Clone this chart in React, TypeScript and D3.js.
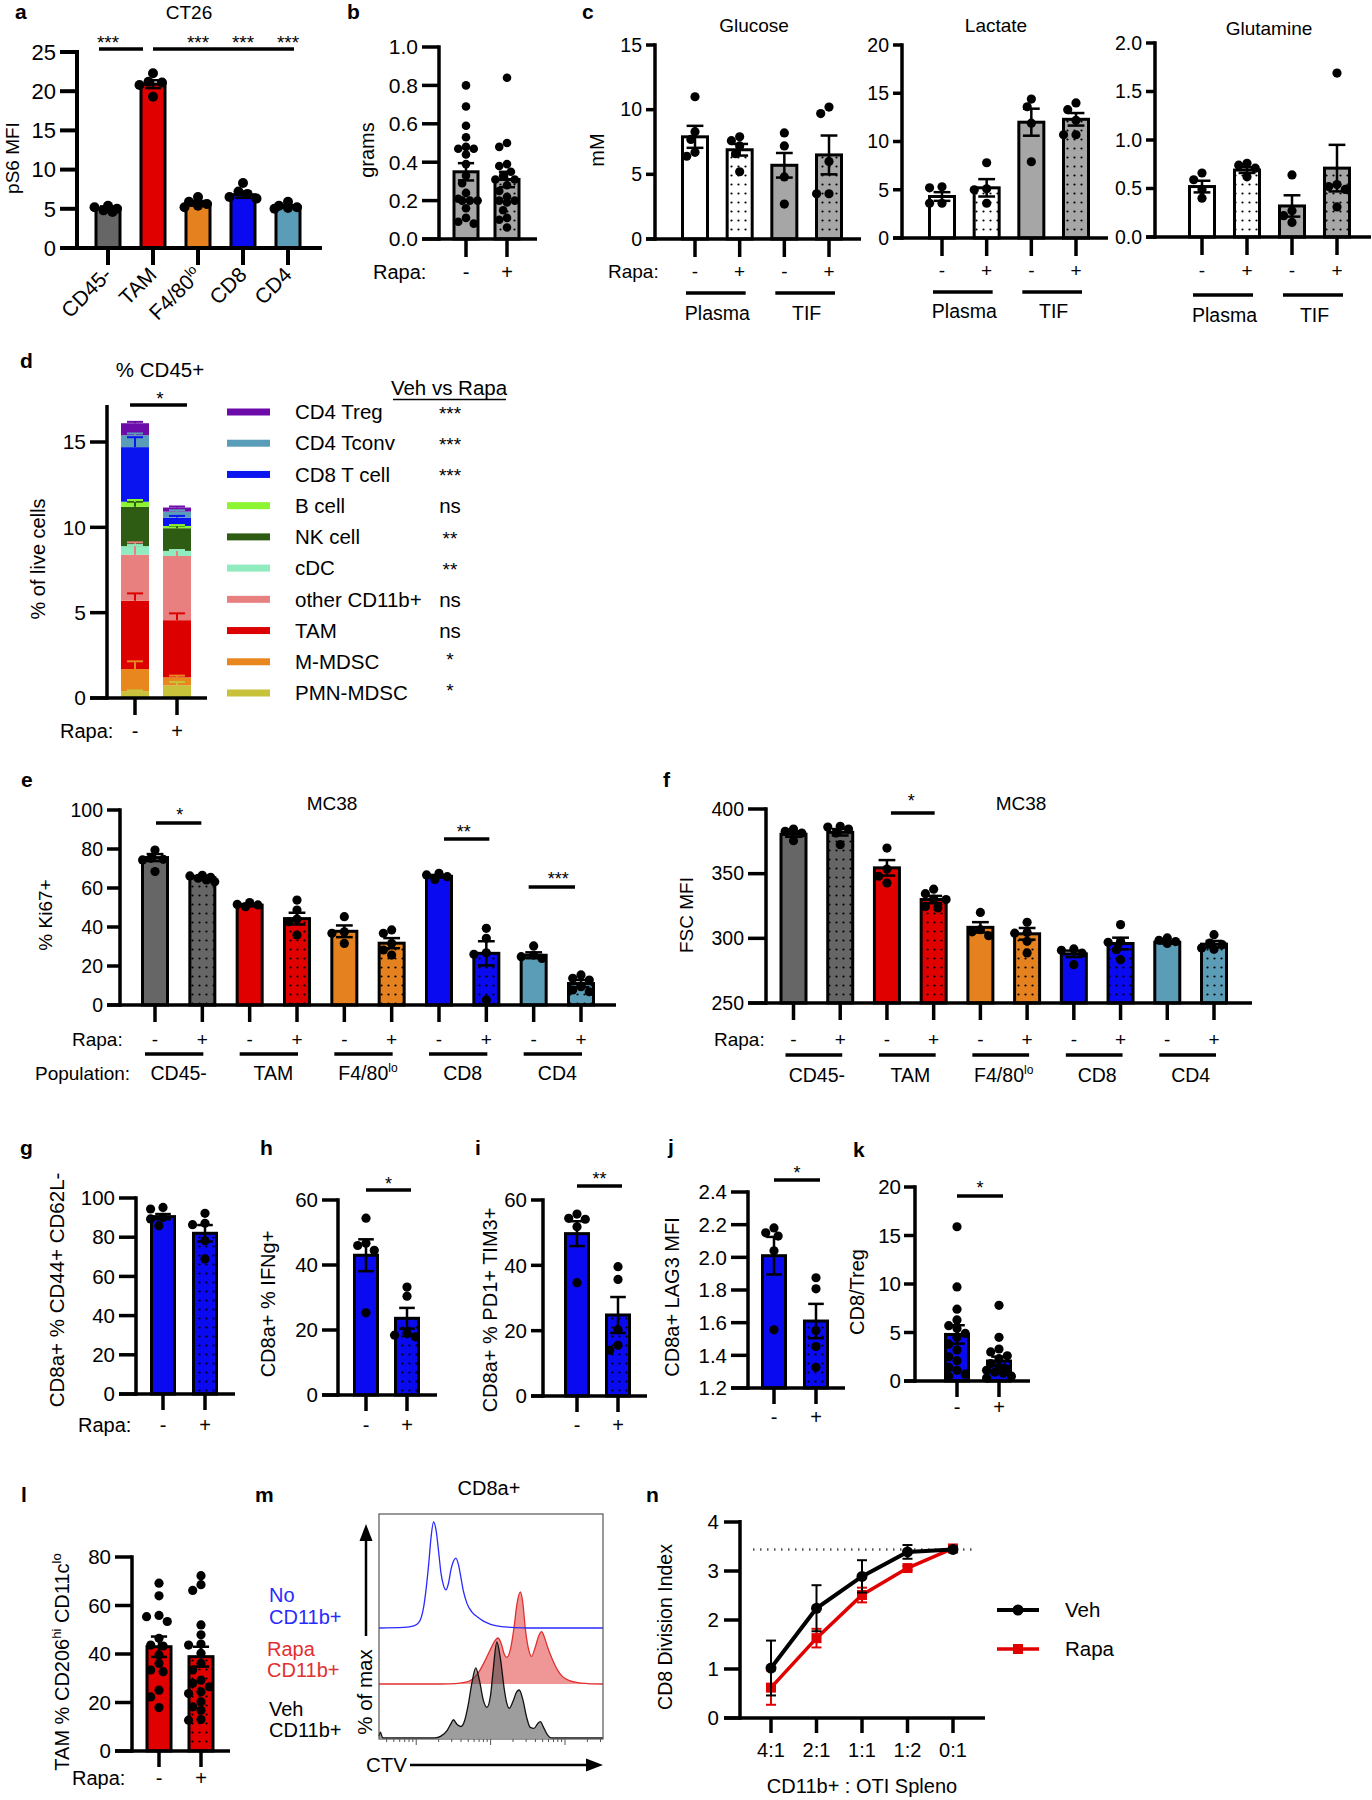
import React from "react";
import * as d3 from "d3";

const FONT = "'Liberation Sans', Arial, Helvetica, sans-serif";

const C_GRAY = "#666666";
const C_RED = "#e00000";
const C_ORANGE = "#e5821f";
const C_BLUE = "#0a0af0";
const C_TEAL = "#5b9db6";
const C_LGRAY = "#a6a6a6";
const C_WHITE = "#ffffff";

// ---------------- panel a ----------------
const aCats = ["CD45-", "TAM", "F4/80", "CD8", "CD4"];
const aSup = ["", "", "lo", "", ""];
const aMeans = [5.1, 20.9, 5.7, 6.8, 5.3];
const aSem = [0.2, 0.5, 0.3, 0.4, 0.15];
const aPts = [
  [5.4, 5.0, 4.8, 5.2, 4.6],
  [22.3, 21.1, 20.8, 19.3, 21.2],
  [6.5, 5.6, 5.2, 5.9, 5.4],
  [8.3, 7.2, 6.3, 6.5, 6.9],
  [5.9, 5.4, 5.1, 5.2, 5.0],
];
const aColors = [C_GRAY, C_RED, C_ORANGE, C_BLUE, C_TEAL];
const aTicks = [0, 5, 10, 15, 20, 25];
const aSig = ["***", "", "***", "***", "***"];

// ---------------- panel b ----------------
const rapaSigns = ["-", "+"];
const bMeans = [0.35, 0.31];
const bSem = [0.045, 0.04];
const bVeh = [0.8, 0.69, 0.59, 0.53, 0.48, 0.47, 0.47, 0.44, 0.39, 0.33, 0.29, 0.24, 0.21, 0.2, 0.2, 0.2, 0.16, 0.11, 0.09, 0.08];
const bRapa = [0.84, 0.5, 0.48, 0.39, 0.38, 0.35, 0.33, 0.31, 0.31, 0.28, 0.25, 0.22, 0.2, 0.2, 0.19, 0.15, 0.11, 0.1, 0.06];
const bTicks = [0, 0.2, 0.4, 0.6, 0.8, 1.0];

// ---------------- panel c ----------------
const cGroups = ["Plasma", "TIF"];
const cSigns = ["-", "+", "-", "+"];
const glcMeans = [7.9, 6.9, 5.7, 6.5];
const glcSem = [0.85, 0.45, 0.95, 1.5];
const glcPts = [
  [11.0, 8.3, 7.7, 6.7, 6.4],
  [7.9, 7.6, 7.2, 6.6, 5.2],
  [8.2, 7.2, 4.8, 2.7],
  [10.2, 9.7, 6.0, 3.5, 3.5],
];
const lacMeans = [4.3, 5.2, 12.0, 12.3];
const lacSem = [0.45, 0.9, 1.4, 0.65];
const lacPts = [
  [5.3, 5.2, 3.6, 3.6],
  [7.8, 5.1, 5.0, 3.6],
  [13.6, 14.4, 11.9, 7.9],
  [14.0, 13.3, 12.2, 10.7, 10.7],
];
const glnMeans = [0.52, 0.69, 0.32, 0.71];
const glnSem = [0.06, 0.03, 0.11, 0.24];
const glnPts = [
  [0.59, 0.66, 0.49, 0.4],
  [0.74, 0.71, 0.76, 0.62],
  [0.64, 0.27, 0.22, 0.15],
  [1.69, 0.54, 0.52, 0.49, 0.31],
];

// ---------------- panel d ----------------
const dPops = ["PMN-MDSC", "M-MDSC", "TAM", "other CD11b+", "cDC", "NK cell", "B cell", "CD8 T cell", "CD4 Tconv", "CD4 Treg"];
const dColors = ["#c8c23a", "#e8871e", "#dd0000", "#e88080", "#90ebbf", "#2e5c12", "#8cf532", "#0a14f0", "#5a9db8", "#6c0ba9"];
const dVeh = [0.4, 1.3, 4.0, 2.7, 0.5, 2.3, 0.3, 3.2, 0.7, 0.7];
const dRapa = [0.74, 0.47, 3.35, 3.76, 0.3, 1.33, 0.13, 0.49, 0.35, 0.24];
const dVehSem = [0.05, 0.45, 0.43, 0.72, 0.06, 0.3, 0.1, 0.58, 0.1, 0.08];
const dRapaSem = [0.2, 0.1, 0.4, 0.35, 0.05, 0.15, 0.05, 0.1, 0.08, 0.06];
const dSig = ["*", "*", "ns", "ns", "**", "**", "ns", "***", "***", "***"];
const dTicks = [0, 5, 10, 15];

// ---------------- panel e ----------------
const popGroups = ["CD45-", "TAM", "F4/80", "CD8", "CD4"];
const popSup = ["", "", "lo", "", ""];
const popColors = [C_GRAY, C_RED, C_ORANGE, C_BLUE, C_TEAL];
const eMeans = [75.6, 65.3, 51.2, 44.3, 37.8, 31.7, 66.0, 26.5, 25.5, 11.0];
const eSem = [1.8, 0.8, 0.6, 3.0, 3.0, 2.6, 0.7, 6.2, 1.5, 1.8];
const ePts = [
  [79.5, 75.2, 74.7, 74.4, 68.4],
  [66.2, 65.5, 65.0, 64.1, 63.2, 66.5],
  [52.5, 51.6, 51.3, 50.4],
  [53.8, 48.7, 44.1, 42.7, 35.9],
  [45.3, 36.8, 37.5, 31.6],
  [38.5, 36.8, 28.2, 25.6, 31.6],
  [67.5, 66.7, 65.8, 64.4],
  [39.3, 34.2, 26.8, 26.0, 2.6],
  [30.3, 25.6, 24.8, 23.9],
  [15.4, 13.7, 9.4, 7.7, 6.8, 12.8],
];
const eTicks = [0, 20, 40, 60, 80, 100];

// ---------------- panel f ----------------
const fMeans = [380.5, 382, 354.5, 330, 308.5, 303.5, 288, 296, 297, 295.5];
const fSem = [2.0, 2.5, 6.0, 2.8, 4.0, 4.5, 2.5, 4.5, 1.0, 2.5];
const fPts = [
  [384.5, 382.7, 381.4, 375.5],
  [386.6, 386.0, 384.5, 381.4, 372.4],
  [369.8, 353.6, 348.0, 342.8],
  [338, 334.5, 330.4, 324.7, 323.5, 330.0],
  [320, 306.7, 305, 302],
  [312.4, 304.6, 304, 297.7, 288.7],
  [291.8, 290.7, 288.5, 279.6],
  [310.6, 297.7, 296.9, 291.2, 283.5],
  [300.3, 298.5, 297.5, 296.0],
  [302.8, 296.4, 295.1, 292.5, 291.5],
];
const fTicks = [250, 300, 350, 400];

// ---------------- panels g-l ----------------
const gMeans = [90.5, 82.0];
const gSem = [1.3, 4.2];
const gPts = [[95.2, 94.4, 90.1, 89.3, 85.9], [92.2, 87.1, 86.4, 78.2, 68.9]];
const hMeans = [43.0, 23.6];
const hSem = [4.9, 3.2];
const hPts = [[54.4, 46.7, 46.0, 44.5, 25.3], [33.2, 30.4, 18.9, 18.4, 17.9]];
const iMeans = [49.7, 24.8];
const iSem = [3.8, 5.5];
const iPts = [[55.7, 54.4, 54.1, 51.8, 34.7], [39.6, 35.7, 20.3, 15.5, 14.0]];
const jMeans = [2.01, 1.61];
const jSem = [0.115, 0.105];
const jPts = [[2.18, 2.15, 2.13, 2.04, 1.556], [1.875, 1.807, 1.552, 1.454, 1.327]];
const kMeans = [4.8, 2.06];
const kSem = [0.95, 0.45];
const kPts = [
  [15.9, 9.7, 7.4, 6.3, 5.7, 5.4, 4.9, 4.5, 3.8, 3.2, 2.5, 2.1, 1.4, 1.1, 0.7, 0.5],
  [7.8, 4.5, 3.3, 3.0, 2.6, 2.3, 1.8, 1.4, 1.1, 0.8, 0.5, 0.3, 1.2, 0.9],
];
const lMeans = [43.0, 38.9];
const lSem = [4.2, 4.1];
const lPts = [
  [69.2, 64.0, 55.9, 55.4, 53.4, 46.5, 43.7, 43.3, 39.6, 36.1, 33.4, 32.7, 25.1, 22.3, 17.9],
  [72.3, 68.6, 66.2, 52.0, 47.9, 44.1, 43.7, 40.3, 36.1, 33.4, 29.2, 27.9, 26.5, 24.4, 23.7, 20.3, 18.2, 16.8, 13.0, 12.7],
];

// ---------------- panel m (CTV histograms: [CTV intensity, % of max]) ----------------
const mNoCD11b: [number, number][] = [
  [31.6, 0], [68, 0.5], [93, 2], [108, 5], [126, 20], [147, 60], [158, 85], [171, 100], [185, 92], [200, 72],
  [215, 52], [233, 40], [251, 36], [271, 42], [293, 55], [316, 63], [341, 66], [369, 60], [398, 48], [430, 35],
  [482, 23], [562, 15], [681, 10], [825, 6], [1000, 3.5], [1212, 2], [1585, 1], [2154, 0.3], [3162, 0], [32400, 0],
];
const mRapa: [number, number][] = [
  [31.6, 0], [215, 0], [341, 0.5], [464, 2], [562, 5], [681, 12], [825, 24], [1000, 38], [1122, 46], [1259, 50],
  [1413, 42], [1531, 32], [1652, 29], [1848, 38], [2069, 62], [2239, 85], [2512, 100], [2712, 88], [2929, 60],
  [3281, 36], [3548, 30], [3981, 40], [4467, 53], [4842, 57], [5224, 52], [5843, 40], [6813, 26], [7943, 15],
  [9261, 8], [11220, 4], [14678, 1.5], [19953, 0.5], [32400, 0],
];
const mVeh: [number, number][] = [
  [31.6, 2], [32.9, 6], [35.5, 0], [178, 0], [215, 2], [261, 8], [293, 15], [316, 19], [355, 14], [398, 12],
  [447, 18], [501, 35], [562, 58], [631, 73], [708, 60], [794, 40], [891, 32], [1000, 45], [1080, 70], [1212, 100],
  [1359, 82], [1531, 50], [1652, 36], [1778, 31], [1995, 38], [2239, 48], [2424, 50], [2712, 40], [3040, 22],
  [3411, 11], [3831, 10], [4299, 15], [4642, 17], [5224, 10], [5843, 3], [6554, 0], [32400, 0],
];

// ---------------- panel n ----------------
const nRatios = ["4:1", "2:1", "1:1", "1:2", "0:1"];
const nVeh = [1.02, 2.24, 2.89, 3.39, 3.44];
const nVehSem = [0.56, 0.47, 0.33, 0.14, 0.03];
const nRapa = [0.62, 1.63, 2.51, 3.06, 3.46];
const nRapaSem = [0.35, 0.19, 0.15, 0.04, 0.03];
const nRef = 3.44;
const nTicks = [0, 1, 2, 3, 4];

// ================= helpers =================
const pat = (c: string) => "dots" + c.replace("#", "");
const PAT_COLORS = [C_GRAY, C_RED, C_ORANGE, C_BLUE, C_TEAL, C_LGRAY, C_WHITE];

function Defs() {
  return (
    <defs>
      {PAT_COLORS.map((c) => (
        <pattern key={c} id={pat(c)} width={7} height={9} patternUnits="userSpaceOnUse">
          <rect width={7} height={9} fill={c} />
          <circle cx={3.5} cy={4.5} r={1.1} fill="#000" />
        </pattern>
      ))}
    </defs>
  );
}

function T(p: any) {
  const tr =
    `translate(${p.x},${p.y})` +
    (p.rot ? ` rotate(${p.rot})` : "") +
    (p.sx && p.sx !== 1 ? ` scale(${p.sx},1)` : "");
  return (
    <text
      transform={tr}
      fontSize={p.fs ?? 20}
      textAnchor={p.anchor ?? "start"}
      fill={p.fill ?? "#000"}
      fontWeight={p.weight ?? "normal"}
      dy={p.dy}
    >
      {p.children}
    </text>
  );
}

function Stars({ x, yc, s, fs = 18 }: any) {
  return (
    <T x={x} y={yc + 0.58 * fs} fs={fs} anchor="middle">
      {s}
    </T>
  );
}

function Lbl({ name, sup }: any) {
  return (
    <>
      {name}
      {sup ? (
        <tspan dy={-8} fontSize="0.62em">
          {sup}
        </tspan>
      ) : null}
    </>
  );
}

type Bar = { mean: number; sem: number; pts: number[]; color: string; dotted?: boolean };

function scalesOf(c: any, n: number) {
  const y = d3.scaleLinear().domain(c.dom).range([c.yb, c.yt]);
  const xp = d3.scalePoint<number>().domain(d3.range(n)).range([c.c0, c.c1]);
  return { x: (i: number) => xp(i) as number, y };
}

function swarm(vals: number[], y: (v: number) => number, r: number, half: number): number[] {
  const order = d3.range(vals.length).sort((a, b) => vals[b] - vals[a]);
  const placed: [number, number][] = [];
  const out: number[] = new Array(vals.length).fill(0);
  const step = r * 0.9;
  const cands: number[] = [0];
  for (let k = 1; k * step <= half + 0.01; k++) cands.push(-k * step, k * step);
  for (const i of order) {
    const py = y(vals[i]);
    let best = 0;
    let bestD = -1;
    for (const dx of cands) {
      let md = Infinity;
      for (const [qx, qy] of placed) md = Math.min(md, Math.hypot(qx - dx, qy - py));
      if (md >= 2 * r * 0.92) {
        best = dx;
        break;
      }
      if (md > bestD) {
        bestD = md;
        best = dx;
      }
    }
    placed.push([best, py]);
    out[i] = best;
  }
  return out;
}

function BarChart({ cfg, bars }: { cfg: any; bars: Bar[] }) {
  const { x, y } = scalesOf(cfg, bars.length);
  const r = cfg.r ?? 4.5;
  const lw = cfg.lw ?? 3.5;
  const fmt = cfg.fmt ?? ((v: number) => String(v));
  const capH = cfg.bw * 0.3;
  return (
    <g>
      {bars.map((b, i) => {
        const cx = x(i);
        const top = y(b.mean);
        return (
          <rect
            key={"r" + i}
            x={cx - cfg.bw / 2 + 1.5}
            y={top}
            width={cfg.bw - 3}
            height={cfg.yb - top}
            fill={b.dotted ? `url(#${pat(b.color)})` : b.color}
            stroke="#000"
            strokeWidth={3}
          />
        );
      })}
      {bars.map((b, i) => {
        const cx = x(i);
        const hi = y(b.mean + b.sem);
        const lo = y(Math.max(cfg.dom[0], b.mean - b.sem));
        return (
          <g key={"e" + i} stroke="#000" strokeWidth={2.5}>
            <line x1={cx} x2={cx} y1={hi} y2={lo} />
            <line x1={cx - capH} x2={cx + capH} y1={hi} y2={hi} />
            <line x1={cx - capH} x2={cx + capH} y1={lo} y2={lo} />
          </g>
        );
      })}
      {bars.map((b, i) => {
        const cx = x(i);
        const off = swarm(b.pts, y, r, cfg.bw / 2);
        return (
          <g key={"p" + i}>
            {b.pts.map((v, j) => (
              <circle key={j} cx={cx + off[j]} cy={y(v)} r={r} fill="#000" />
            ))}
          </g>
        );
      })}
      <g stroke="#000" strokeWidth={lw}>
        <line x1={cfg.ax} x2={cfg.ax} y1={cfg.yb + lw / 2} y2={cfg.yt - lw / 2} />
        <line x1={cfg.ax - cfg.tl} x2={cfg.xEnd} y1={cfg.yb} y2={cfg.yb} />
        {cfg.ticks.map((t: number) => (
          <line key={t} x1={cfg.ax - cfg.tl} x2={cfg.ax} y1={y(t)} y2={y(t)} />
        ))}
        {bars.map((_, i) => (
          <line key={i} x1={x(i)} x2={x(i)} y1={cfg.yb} y2={cfg.yb + cfg.catTick} />
        ))}
      </g>
      {cfg.ticks.map((t: number) => (
        <T key={t} x={cfg.ax - cfg.tl - (cfg.pad ?? 4)} y={y(t)} dy="0.35em" fs={cfg.fs} anchor="end">
          {fmt(t)}
        </T>
      ))}
    </g>
  );
}

function SigLine({ x1, x2, y }: any) {
  return <line x1={x1} x2={x2} y1={y} y2={y} stroke="#000" strokeWidth={3.5} />;
}

// ================= panels =================
function PanelA() {
  const cfg = { ax: 77, xEnd: 322, yb: 248, yt: 52, dom: [0, 25], ticks: aTicks, tl: 17, fs: 22, c0: 108, c1: 288, bw: 27, catTick: 17, r: 5, lw: 4 };
  const bars = aCats.map((_, i) => ({ mean: aMeans[i], sem: aSem[i], pts: aPts[i], color: aColors[i] }));
  const { x } = scalesOf(cfg, bars.length);
  return (
    <g>
      <T x={15} y={19} fs={21} weight="bold">a</T>
      <T x={189} y={19} fs={19} anchor="middle">CT26</T>
      <BarChart cfg={cfg} bars={bars} />
      {aCats.map((c, i) => (
        <text key={c} transform={`translate(${x(i) + 5},${276}) rotate(-45)`} textAnchor="end" fontSize={21}>
          <Lbl name={c} sup={aSup[i]} />
        </text>
      ))}
      <T x={12} y={158} rot={-90} anchor="middle" dy="0.35em" fs={19}>pS6 MFI</T>
      <SigLine x1={x(0) - 9} x2={x(1) - 10} y={49} />
      <SigLine x1={x(1)} x2={x(4) + 6} y={49} />
      {aSig.map((s, i) => (s ? <Stars key={i} x={x(i)} yc={38} s={s} fs={19} /> : null))}
    </g>
  );
}

function PanelB() {
  const cfg = { ax: 439, xEnd: 537, yb: 239, yt: 47, dom: [0, 1], ticks: bTicks, fmt: (v: number) => v.toFixed(1), tl: 17, fs: 21, c0: 466, c1: 507, bw: 27, catTick: 18, r: 4.3 };
  const bars: Bar[] = [
    { mean: bMeans[0], sem: bSem[0], pts: bVeh, color: C_LGRAY },
    { mean: bMeans[1], sem: bSem[1], pts: bRapa, color: C_LGRAY, dotted: true },
  ];
  const { x } = scalesOf(cfg, 2);
  return (
    <g>
      <T x={347} y={19} fs={21} weight="bold">b</T>
      <BarChart cfg={cfg} bars={bars} />
      <T x={367} y={150} rot={-90} anchor="middle" dy="0.35em" fs={20}>grams</T>
      <T x={373} y={279} fs={20}>Rapa:</T>
      {rapaSigns.map((s, i) => (
        <T key={i} x={x(i)} y={279} fs={20} anchor="middle">{s}</T>
      ))}
    </g>
  );
}

function CSub({ cfg, means, sems, pts, title, tx, ty, signY, lineY, labY, rapa }: any) {
  const colors = [C_WHITE, C_WHITE, C_LGRAY, C_LGRAY];
  const bars: Bar[] = means.map((m: number, i: number) => ({ mean: m, sem: sems[i], pts: pts[i], color: colors[i], dotted: i % 2 === 1 }));
  const { x } = scalesOf(cfg, 4);
  return (
    <g>
      <BarChart cfg={cfg} bars={bars} />
      <T x={tx} y={ty} fs={19} anchor="middle">{title}</T>
      {rapa ? <T x={rapa} y={signY} fs={19}>Rapa:</T> : null}
      {cSigns.map((s, i) => (
        <T key={i} x={x(i)} y={signY} fs={19} anchor="middle">{s}</T>
      ))}
      {cGroups.map((g, k) => (
        <g key={g}>
          <SigLine x1={x(2 * k) - 9} x2={x(2 * k + 1) + 6} y={lineY} />
          <T x={(x(2 * k) + x(2 * k + 1)) / 2} y={labY} fs={19.5} anchor="middle">{g}</T>
        </g>
      ))}
    </g>
  );
}

function PanelC() {
  const base = { tl: 9, fs: 19.5, bw: 28, catTick: 18, r: 4.6, lw: 3.5 };
  return (
    <g>
      <T x={582} y={19} fs={21} weight="bold">c</T>
      <T x={597} y={150} rot={-90} anchor="middle" dy="0.35em" fs={20}>mM</T>
      <CSub
        cfg={{ ...base, ax: 655, xEnd: 861, yb: 239, yt: 45, dom: [0, 15], ticks: [0, 5, 10, 15], c0: 695, c1: 829 }}
        means={glcMeans} sems={glcSem} pts={glcPts} title="Glucose" tx={754} ty={32}
        signY={278} lineY={293} labY={320} rapa={608}
      />
      <CSub
        cfg={{ ...base, ax: 902, xEnd: 1108, yb: 238, yt: 45, dom: [0, 20], ticks: [0, 5, 10, 15, 20], c0: 942, c1: 1076 }}
        means={lacMeans} sems={lacSem} pts={lacPts} title="Lactate" tx={996} ty={32}
        signY={277} lineY={292} labY={318}
      />
      <CSub
        cfg={{ ...base, ax: 1155, xEnd: 1371, yb: 237, yt: 43, dom: [0, 2], ticks: [0, 0.5, 1, 1.5, 2], fmt: (v: number) => v.toFixed(1), c0: 1202, c1: 1337 }}
        means={glnMeans} sems={glnSem} pts={glnPts} title="Glutamine" tx={1269} ty={35}
        signY={277} lineY={295} labY={322}
      />
    </g>
  );
}

function PanelD() {
  const ax = 107, yb = 698, tl = 17, xEnd = 207, bw = 28;
  const y = d3.scaleLinear().domain([0, 15]).range([yb, 442]);
  const xp = d3.scalePoint<number>().domain([0, 1]).range([135, 177]);
  const stackData = [dVeh, dRapa].map((arr) => Object.fromEntries(dPops.map((p, i) => [p, arr[i]])));
  const series = d3.stack<any>().keys(dPops)(stackData);
  const sems = [dVehSem, dRapaSem];
  const rowY = d3.scalePoint<number>().domain(d3.range(10)).range([412, 693]);
  const legendOrder = d3.range(10).reverse();
  return (
    <g>
      <T x={20} y={368} fs={21} weight="bold">d</T>
      <T x={160} y={377} fs={20.5} anchor="middle">% CD45+</T>
      <Stars x={160} yc={394} s="*" fs={19} />
      <SigLine x1={130} x2={187} y={405} />
      {series.map((s, k) =>
        s.map((d, j) => {
          const cx = xp(j) as number;
          return (
            <rect key={k + "-" + j} x={cx - bw / 2} y={y(d[1])} width={bw} height={y(d[0]) - y(d[1])} fill={dColors[k]} />
          );
        })
      )}
      {series.map((s, k) =>
        s.map((d, j) => {
          const cx = xp(j) as number;
          const top = y(d[1]);
          const hi = y(d[1] + sems[j][k]);
          return (
            <g key={"e" + k + "-" + j} stroke={dColors[k]} strokeWidth={2}>
              <line x1={cx} x2={cx} y1={top} y2={hi} />
              <line x1={cx - 8} x2={cx + 8} y1={hi} y2={hi} />
            </g>
          );
        })
      )}
      <g stroke="#000" strokeWidth={3.5}>
        <line x1={ax} x2={ax} y1={yb + 1.75} y2={405} />
        <line x1={ax - tl} x2={xEnd} y1={yb} y2={yb} />
        {dTicks.map((t) => (
          <line key={t} x1={ax - tl} x2={ax} y1={y(t)} y2={y(t)} />
        ))}
        {[0, 1].map((j) => (
          <line key={j} x1={xp(j)} x2={xp(j)} y1={yb} y2={yb + 17} />
        ))}
      </g>
      {dTicks.map((t) => (
        <T key={t} x={ax - tl - 4} y={y(t)} dy="0.35em" fs={21} anchor="end">{t}</T>
      ))}
      <T x={38} y={559} rot={-90} anchor="middle" dy="0.35em" fs={20}>% of live cells</T>
      <T x={60} y={738} fs={20}>Rapa:</T>
      {rapaSigns.map((s, j) => (
        <T key={j} x={xp(j)} y={738} fs={20} anchor="middle">{s}</T>
      ))}
      <T x={449} y={395} fs={20.5} anchor="middle">Veh vs Rapa</T>
      <line x1={393} x2={506} y1={399.5} y2={399.5} stroke="#000" strokeWidth={1.6} />
      {legendOrder.map((k, r) => {
        const ry = rowY(r) as number;
        const sig = dSig[k];
        return (
          <g key={k}>
            <rect x={227} y={ry - 3.5} width={43} height={7} fill={dColors[k]} />
            <T x={295} y={ry} dy="0.35em" fs={20.5}>{dPops[k]}</T>
            {sig.startsWith("*") ? (
              <Stars x={450} yc={ry - (sig.length === 1 ? 7 : 3)} s={sig} fs={19} />
            ) : (
              <T x={450} y={ry} dy="0.35em" fs={20.5} anchor="middle">{sig}</T>
            )}
          </g>
        );
      })}
    </g>
  );
}

function PopPanel({ cfg, means, sems, pts, letter, lx, title, tx, ylabel, ylx, rapaX, popX, groupLineY, groupLabY, signY, sigs, lineOff }: any) {
  const bars: Bar[] = means.map((m: number, i: number) => ({
    mean: m,
    sem: sems[i],
    pts: pts[i],
    color: popColors[Math.floor(i / 2)],
    dotted: i % 2 === 1,
  }));
  const { x } = scalesOf(cfg, bars.length);
  return (
    <g>
      <T x={lx} y={787} fs={21} weight="bold">{letter}</T>
      <T x={tx} y={810} fs={19} anchor="middle">{title}</T>
      <BarChart cfg={cfg} bars={bars} />
      <T x={ylx} y={915} rot={-90} anchor="middle" dy="0.35em" fs={19}>{ylabel}</T>
      <T x={rapaX} y={signY} fs={19}>Rapa:</T>
      {popX != null ? <T x={popX} y={groupLabY} fs={19}>Population:</T> : null}
      {bars.map((_, i) => (
        <T key={i} x={x(i)} y={signY} fs={19} anchor="middle">{rapaSigns[i % 2]}</T>
      ))}
      {popGroups.map((g, k) => (
        <g key={g}>
          <SigLine x1={x(2 * k) + lineOff[0]} x2={x(2 * k + 1) + lineOff[1]} y={groupLineY} />
          <text transform={`translate(${(x(2 * k) + x(2 * k + 1)) / 2},${groupLabY})`} textAnchor="middle" fontSize={19.5}>
            <Lbl name={g} sup={popSup[k]} />
          </text>
        </g>
      ))}
      {sigs.map((s: any, k: number) => (
        <g key={k}>
          <SigLine x1={x(s.i) + s.o[0]} x2={x(s.i + 1) + s.o[1]} y={s.ly} />
          <Stars x={(x(s.i) + x(s.i + 1)) / 2 + 1} yc={s.sy} s={s.s} fs={18} />
        </g>
      ))}
    </g>
  );
}

function PanelE() {
  const cfg = { ax: 120, xEnd: 616, yb: 1005, yt: 810, dom: [0, 100], ticks: eTicks, tl: 13, fs: 19.5, c0: 155, c1: 581, bw: 28, catTick: 17, r: 4.6 };
  return (
    <PopPanel
      cfg={cfg} means={eMeans} sems={eSem} pts={ePts} letter="e" lx={21} title="MC38" tx={332}
      ylabel="% Ki67+" ylx={45} rapaX={72} popX={35} groupLineY={1054} groupLabY={1080} signY={1046}
      lineOff={[-10, 1]}
      sigs={[
        { i: 0, s: "*", ly: 823, sy: 811, o: [1, -1] },
        { i: 6, s: "**", ly: 839, sy: 828, o: [5, 3] },
        { i: 8, s: "***", ly: 887, sy: 875, o: [-5, -6] },
      ]}
    />
  );
}

function PanelF() {
  const cfg = { ax: 766, xEnd: 1252, yb: 1003, yt: 809, dom: [250, 400], ticks: fTicks, tl: 18, fs: 19.5, c0: 793.5, c1: 1214, bw: 28, catTick: 17, r: 4.6 };
  return (
    <PopPanel
      cfg={cfg} means={fMeans} sems={fSem} pts={fPts} letter="f" lx={663} title="MC38" tx={1021}
      ylabel="FSC MFI" ylx={686} rapaX={714} popX={null} groupLineY={1055} groupLabY={1082} signY={1046}
      lineOff={[-8, 2]}
      sigs={[{ i: 2, s: "*", ly: 813, sy: 797, o: [4, 1] }]}
    />
  );
}

function PairPanel({ cfg, means, sems, pts, color, letter, lx, ly, ylabel, ylx, yly, ylFs, rapaX, signY, sig }: any) {
  const bars: Bar[] = [
    { mean: means[0], sem: sems[0], pts: pts[0], color },
    { mean: means[1], sem: sems[1], pts: pts[1], color, dotted: true },
  ];
  const { x } = scalesOf(cfg, 2);
  return (
    <g>
      <T x={lx} y={ly} fs={21} weight="bold">{letter}</T>
      <BarChart cfg={cfg} bars={bars} />
      <T x={ylx} y={yly} rot={-90} anchor="middle" dy="0.35em" fs={ylFs ?? 20}>{ylabel}</T>
      {rapaX != null ? <T x={rapaX} y={signY} fs={20}>Rapa:</T> : null}
      {rapaSigns.map((s, i) => (
        <T key={i} x={x(i)} y={signY} fs={20} anchor="middle">{s}</T>
      ))}
      {sig ? (
        <g>
          <SigLine x1={x(0)} x2={x(1) + 4} y={sig.ly} />
          <Stars x={(x(0) + x(1)) / 2 + 2} yc={sig.sy} s={sig.s} fs={18} />
        </g>
      ) : null}
    </g>
  );
}

function PanelsGK() {
  const b = { fs: 20.5, bw: 26, catTick: 16, r: 4.6 };
  return (
    <g>
      <PairPanel
        cfg={{ ...b, ax: 136, xEnd: 235, yb: 1394, yt: 1198, dom: [0, 100], ticks: [0, 20, 40, 60, 80, 100], tl: 17, c0: 163, c1: 205 }}
        means={gMeans} sems={gSem} pts={gPts} color={C_BLUE} letter="g" lx={20} ly={1155}
        ylabel="CD8a+ % CD44+ CD62L-" ylx={57} yly={1290} ylFs={20.5} rapaX={78} signY={1432}
      />
      <PairPanel
        cfg={{ ...b, ax: 338, xEnd: 437, yb: 1395, yt: 1200, dom: [0, 60], ticks: [0, 20, 40, 60], tl: 16, c0: 366, c1: 407 }}
        means={hMeans} sems={hSem} pts={hPts} color={C_BLUE} letter="h" lx={260} ly={1155}
        ylabel="CD8a+ % IFNg+" ylx={268} yly={1304} signY={1432}
        sig={{ s: "*", ly: 1190, sy: 1180 }}
      />
      <PairPanel
        cfg={{ ...b, ax: 543, xEnd: 647, yb: 1396, yt: 1200, dom: [0, 60], ticks: [0, 20, 40, 60], tl: 12, c0: 577, c1: 618 }}
        means={iMeans} sems={iSem} pts={iPts} color={C_BLUE} letter="i" lx={475} ly={1155}
        ylabel="CD8a+ % PD1+ TIM3+" ylx={490} yly={1310} signY={1432}
        sig={{ s: "**", ly: 1186, sy: 1175 }}
      />
      <PairPanel
        cfg={{ ...b, ax: 748, xEnd: 845, yb: 1388, yt: 1192, dom: [1.2, 2.4], ticks: [1.2, 1.4, 1.6, 1.8, 2.0, 2.2, 2.4], fmt: (v: number) => v.toFixed(1), tl: 17, c0: 774, c1: 816 }}
        means={jMeans} sems={jSem} pts={jPts} color={C_BLUE} letter="j" lx={668} ly={1154}
        ylabel="CD8a+ LAG3 MFI" ylx={672} yly={1297} signY={1424}
        sig={{ s: "*", ly: 1180, sy: 1169 }}
      />
      <PairPanel
        cfg={{ ...b, ax: 915, xEnd: 1030, yb: 1381, yt: 1187, dom: [0, 20], ticks: [0, 5, 10, 15, 20], tl: 11, pad: 3, c0: 957, c1: 999 }}
        means={kMeans} sems={kSem} pts={kPts} color={C_BLUE} letter="k" lx={853} ly={1157}
        ylabel="CD8/Treg" ylx={857} yly={1292} signY={1414}
        sig={{ s: "*", ly: 1196, sy: 1184 }}
      />
    </g>
  );
}

function PanelL() {
  const cfg = { ax: 132, xEnd: 230, yb: 1751, yt: 1557, dom: [0, 80], ticks: [0, 20, 40, 60, 80], tl: 17, fs: 20.5, c0: 159, c1: 201, bw: 27, catTick: 16, r: 4.6 };
  const bars: Bar[] = [
    { mean: lMeans[0], sem: lSem[0], pts: lPts[0], color: C_RED },
    { mean: lMeans[1], sem: lSem[1], pts: lPts[1], color: C_RED, dotted: true },
  ];
  const { x } = scalesOf(cfg, 2);
  return (
    <g>
      <T x={21} y={1502} fs={21} weight="bold">l</T>
      <BarChart cfg={cfg} bars={bars} />
      <text transform="translate(62,1662) rotate(-90)" textAnchor="middle" fontSize={20} dy="0.35em">
        TAM % CD206<tspan dy={-8} fontSize={13}>hi</tspan>
        <tspan dy={8}> CD11c</tspan>
        <tspan dy={-8} fontSize={13}>lo</tspan>
      </text>
      <T x={72} y={1785} fs={20}>Rapa:</T>
      {rapaSigns.map((s, i) => (
        <T key={i} x={x(i)} y={1785} fs={20} anchor="middle">{s}</T>
      ))}
    </g>
  );
}

function PanelM() {
  const x = d3.scaleLog().domain([31.6, 32400]).range([379, 603]);
  const mk = (base: number, h: number) => d3.scaleLinear().domain([0, 100]).range([base, base - h]);
  const yB = mk(1628, 106);
  const yR = mk(1684, 92);
  const yK = mk(1738, 96);
  const line = (ys: any) => d3.line<[number, number]>().x((d) => x(d[0])).y((d) => ys(d[1])).curve(d3.curveMonotoneX);
  const area = (ys: any) => d3.area<[number, number]>().x((d) => x(d[0])).y0(ys(0)).y1((d) => ys(d[1])).curve(d3.curveMonotoneX);
  const ticks = x.ticks();
  return (
    <g>
      <T x={255} y={1502} fs={21} weight="bold">m</T>
      <T x={489} y={1495} fs={20} anchor="middle">CD8a+</T>
      <path d={area(yR)(mRapa) as string} fill="rgba(224,48,48,0.5)" />
      <path d={line(yR)(mRapa) as string} fill="none" stroke="#e03030" strokeWidth={1.3} />
      <path d={area(yK)(mVeh) as string} fill="rgba(60,60,60,0.5)" />
      <path d={line(yK)(mVeh) as string} fill="none" stroke="#111" strokeWidth={1.3} />
      <path d={line(yB)(mNoCD11b) as string} fill="none" stroke="#2a2aff" strokeWidth={1.3} />
      <rect x={379} y={1514} width={224} height={225} fill="none" stroke="#555" strokeWidth={1.2} />
      {ticks.map((t, i) => {
        const major = Math.abs(Math.log10(t) - Math.round(Math.log10(t))) < 1e-6;
        return <line key={i} x1={x(t)} x2={x(t)} y1={1739} y2={1739 + (major ? 6 : 3)} stroke="#555" strokeWidth={1} />;
      })}
      <line x1={366} x2={366} y1={1636} y2={1538} stroke="#000" strokeWidth={2.5} />
      <polygon points="366,1524 359.5,1541 372.5,1541" fill="#000" />
      <T x={365} y={1692} rot={-90} anchor="middle" dy="0.35em" fs={20.5}>% of max</T>
      <T x={366} y={1772} fs={20.5}>CTV</T>
      <line x1={410} x2={588} y1={1765} y2={1765} stroke="#000" strokeWidth={2.5} />
      <polygon points="603,1765 586,1758.5 586,1771.5" fill="#000" />
      <T x={269} y={1602} fs={20} fill="#2a2aff">No</T>
      <T x={269} y={1624} fs={20} fill="#2a2aff">CD11b+</T>
      <T x={267} y={1656} fs={20} fill="#e03030">Rapa</T>
      <T x={267} y={1677} fs={20} fill="#e03030">CD11b+</T>
      <T x={269} y={1716} fs={20}>Veh</T>
      <T x={269} y={1737} fs={20}>CD11b+</T>
    </g>
  );
}

function PanelN() {
  const x = d3.scalePoint<string>().domain(nRatios).range([771, 953]);
  const y = d3.scaleLinear().domain([0, 4]).range([1718, 1522]);
  const X = (i: number) => x(nRatios[i]) as number;
  const ln = d3.line<number>().x((_, i) => X(i)).y((d) => y(d));
  const errs = (vals: number[], sems: number[], color: string, w: number) =>
    vals.map((v, i) => (
      <g key={i} stroke={color} strokeWidth={w}>
        <line x1={X(i)} x2={X(i)} y1={y(v - sems[i])} y2={y(v + sems[i])} />
        <line x1={X(i) - 5} x2={X(i) + 5} y1={y(v - sems[i])} y2={y(v - sems[i])} />
        <line x1={X(i) - 5} x2={X(i) + 5} y1={y(v + sems[i])} y2={y(v + sems[i])} />
      </g>
    ));
  return (
    <g>
      <T x={646} y={1502} fs={21} weight="bold">n</T>
      <line x1={753} x2={977} y1={y(nRef)} y2={y(nRef)} stroke="#555" strokeWidth={2.5} strokeDasharray="1.5,5.5" />
      <path d={ln(nRapa) as string} fill="none" stroke="#e00000" strokeWidth={3.5} />
      {errs(nRapa, nRapaSem, "#e00000", 2)}
      {nRapa.map((v, i) => (
        <rect key={i} x={X(i) - 5} y={y(v) - 5} width={10} height={10} fill="#e00000" />
      ))}
      <path d={ln(nVeh) as string} fill="none" stroke="#000" strokeWidth={4} />
      {errs(nVeh, nVehSem, "#000", 2)}
      {nVeh.map((v, i) => (
        <circle key={i} cx={X(i)} cy={y(v)} r={5.5} fill="#000" />
      ))}
      <g stroke="#000" strokeWidth={3.5}>
        <line x1={740} x2={740} y1={1719.75} y2={1520} />
        <line x1={724} x2={985} y1={1718} y2={1718} />
        {nTicks.map((t) => (
          <line key={t} x1={724} x2={740} y1={y(t)} y2={y(t)} />
        ))}
        {nRatios.map((r, i) => (
          <line key={r} x1={X(i)} x2={X(i)} y1={1718} y2={1733} />
        ))}
      </g>
      {nTicks.map((t) => (
        <T key={t} x={719} y={y(t)} dy="0.35em" fs={20.5} anchor="end">{t}</T>
      ))}
      {nRatios.map((r, i) => (
        <T key={r} x={X(i)} y={1757} fs={20} anchor="middle">{r}</T>
      ))}
      <T x={862} y={1793} fs={20} anchor="middle">CD11b+ : OTI Spleno</T>
      <T x={665} y={1627} rot={-90} anchor="middle" dy="0.35em" fs={19.5}>CD8 Division Index</T>
      <line x1={997} x2={1039} y1={1610} y2={1610} stroke="#000" strokeWidth={4} />
      <circle cx={1018} cy={1610} r={5.5} fill="#000" />
      <T x={1065} y={1617} fs={20.5}>Veh</T>
      <line x1={997} x2={1039} y1={1649} y2={1649} stroke="#e00000" strokeWidth={3.5} />
      <rect x={1013} y={1644} width={10} height={10} fill="#e00000" />
      <T x={1065} y={1656} fs={20.5}>Rapa</T>
    </g>
  );
}

export default function App() {
  return (
    <svg
      width={1372}
      height={1800}
      viewBox="0 0 1372 1800"
      style={{ position: "absolute", left: 0, top: 0, background: "#fff" }}
      fontFamily={FONT}
    >
      <rect width={1372} height={1800} fill="#fff" />
      <Defs />
      <PanelA />
      <PanelB />
      <PanelC />
      <PanelD />
      <PanelE />
      <PanelF />
      <PanelsGK />
      <PanelL />
      <PanelM />
      <PanelN />
    </svg>
  );
}
